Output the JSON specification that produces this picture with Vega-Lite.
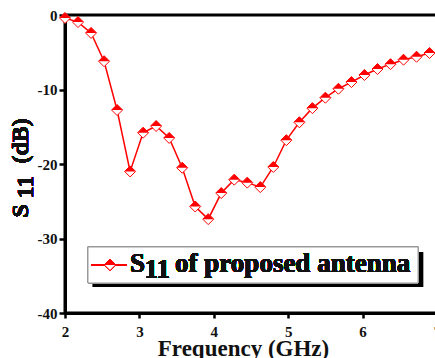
{
  "$schema": "https://vega.github.io/schema/vega-lite/v6.json",
  "width": 372,
  "height": 298,
  "autosize": {"type": "none"},
  "padding": {"left": 65, "top": 15, "right": 0, "bottom": 45},
  "background": "white",
  "config": {"view": {"stroke": "black", "strokeWidth": 3}, "font": "Liberation Serif"},
  "resolve": {"axis": {"x": "independent", "y": "independent"}},
  "data": {"values": [
    {"f": 2.0, "s11": -0.4}, {"f": 2.175, "s11": -0.95}, {"f": 2.35, "s11": -2.4}, {"f": 2.525, "s11": -6.2},
    {"f": 2.7, "s11": -12.75}, {"f": 2.875, "s11": -21.0}, {"f": 3.05, "s11": -15.8}, {"f": 3.225, "s11": -14.9},
    {"f": 3.4, "s11": -16.5}, {"f": 3.575, "s11": -20.5}, {"f": 3.75, "s11": -25.7}, {"f": 3.925, "s11": -27.4},
    {"f": 4.1, "s11": -23.9}, {"f": 4.275, "s11": -22.1}, {"f": 4.45, "s11": -22.5}, {"f": 4.625, "s11": -23.1},
    {"f": 4.8, "s11": -20.4}, {"f": 4.975, "s11": -16.8}, {"f": 5.15, "s11": -14.4}, {"f": 5.325, "s11": -12.5},
    {"f": 5.5, "s11": -11.1}, {"f": 5.675, "s11": -9.9}, {"f": 5.85, "s11": -9.0}, {"f": 6.025, "s11": -8.05},
    {"f": 6.2, "s11": -7.25}, {"f": 6.375, "s11": -6.6}, {"f": 6.55, "s11": -6.0}, {"f": 6.725, "s11": -5.6},
    {"f": 6.9, "s11": -5.1}
  ]},
  "layer": [
    {
      "mark": {"type": "line", "color": "#ff0000", "strokeWidth": 1.5},
      "encoding": {
        "x": {"field": "f", "type": "quantitative", "scale": {"domain": [2, 7], "nice": false, "zero": false},
          "axis": {"values": [2, 3, 4, 5, 6, 7], "labelExpr": "'' + datum.value", "title": "Frequency (GHz)", "grid": false, "domainColor": "black", "domainWidth": 3,
            "tickColor": "black", "tickWidth": 2.5, "tickSize": 5, "labelFont": "Liberation Serif", "labelFontWeight": "bold",
            "labelFontSize": 15, "labelColor": "#111", "labelPadding": 6, "labelFlush": false, "labelOverlap": false,
            "titleFont": "Liberation Serif", "titleFontSize": 23, "titleFontWeight": "bold", "titleColor": "#111",
            "titleX": 178, "titleY": 42, "titleBaseline": "alphabetic"}},
        "y": {"field": "s11", "type": "quantitative", "scale": {"domain": [-40, 0], "nice": false, "zero": false},
          "axis": {"values": [-40, -30, -20, -10, 0], "labelExpr": "'' + datum.value", "title": null, "grid": false, "domainColor": "black", "domainWidth": 3,
            "tickColor": "black", "tickWidth": 2.5, "tickSize": 6, "labelFont": "Liberation Serif", "labelFontWeight": "bold",
            "labelFontSize": 15, "labelColor": "#111", "labelPadding": 2, "labelOverlap": false}}
      }
    },
    {
      "mark": {"type": "point", "shape": "diamond", "filled": true, "fill": "white", "stroke": "#ff0000", "strokeWidth": 1, "size": 121, "opacity": 1},
      "encoding": {
        "x": {"field": "f", "type": "quantitative", "axis": null, "scale": {"domain": [2, 7], "nice": false, "zero": false}},
        "y": {"field": "s11", "type": "quantitative", "axis": null, "scale": {"domain": [-40, 0], "nice": false, "zero": false}}
      }
    },
    {
      "mark": {"type": "point", "shape": "M-1,0L0,-1L1,0Z", "filled": true, "color": "#ff0000", "size": 121, "opacity": 1},
      "encoding": {
        "x": {"field": "f", "type": "quantitative", "axis": null, "scale": {"domain": [2, 7], "nice": false, "zero": false}},
        "y": {"field": "s11", "type": "quantitative", "axis": null, "scale": {"domain": [-40, 0], "nice": false, "zero": false}}
      }
    },
    {
      "mark": {"type": "rect", "color": "black"},
      "encoding": {
        "x": {"datum": 2.376, "type": "quantitative", "axis": null, "scale": {"domain": [2, 7], "nice": false, "zero": false}},
        "x2": {"datum": 6.812},
        "y": {"datum": -31.81, "type": "quantitative", "axis": null, "scale": {"domain": [-40, 0], "nice": false, "zero": false}},
        "y2": {"datum": -36.51}
      }
    },
    {
      "mark": {"type": "rect", "fill": "white", "stroke": "#999999", "strokeWidth": 1},
      "encoding": {
        "x": {"datum": 2.309, "type": "quantitative", "axis": null, "scale": {"domain": [2, 7], "nice": false, "zero": false}},
        "x2": {"datum": 6.745},
        "y": {"datum": -31.14, "type": "quantitative", "axis": null, "scale": {"domain": [-40, 0], "nice": false, "zero": false}},
        "y2": {"datum": -35.97}
      }
    },
    {
      "mark": {"type": "rule", "color": "#ff0000", "strokeWidth": 1.5},
      "encoding": {
        "x": {"datum": 2.349, "type": "quantitative", "axis": null, "scale": {"domain": [2, 7], "nice": false, "zero": false}},
        "x2": {"datum": 2.833},
        "y": {"datum": -33.56, "type": "quantitative", "axis": null, "scale": {"domain": [-40, 0], "nice": false, "zero": false}}
      }
    },
    {
      "mark": {"type": "point", "shape": "diamond", "filled": true, "fill": "white", "stroke": "#ff0000", "strokeWidth": 1, "size": 121, "opacity": 1},
      "encoding": {
        "x": {"datum": 2.605, "type": "quantitative", "axis": null, "scale": {"domain": [2, 7], "nice": false, "zero": false}},
        "y": {"datum": -33.56, "type": "quantitative", "axis": null, "scale": {"domain": [-40, 0], "nice": false, "zero": false}}
      }
    },
    {
      "mark": {"type": "point", "shape": "M-1,0L0,-1L1,0Z", "filled": true, "color": "#ff0000", "size": 121, "opacity": 1},
      "encoding": {
        "x": {"datum": 2.605, "type": "quantitative", "axis": null, "scale": {"domain": [2, 7], "nice": false, "zero": false}},
        "y": {"datum": -33.56, "type": "quantitative", "axis": null, "scale": {"domain": [-40, 0], "nice": false, "zero": false}}
      }
    },
    {
      "mark": {"type": "text", "text": "S", "font": "Liberation Serif", "fontSize": 27, "fontWeight": "bold", "color": "#111", "align": "left", "baseline": "alphabetic"},
      "encoding": {
        "x": {"datum": 2.874, "type": "quantitative", "axis": null, "scale": {"domain": [2, 7], "nice": false, "zero": false}},
        "y": {"datum": -34.5, "type": "quantitative", "axis": null, "scale": {"domain": [-40, 0], "nice": false, "zero": false}}
      }
    },
    {
      "mark": {"type": "text", "text": "11", "font": "Liberation Serif", "fontSize": 27, "fontWeight": "bold", "color": "#111", "align": "left", "baseline": "alphabetic"},
      "encoding": {
        "x": {"datum": 3.07, "type": "quantitative", "axis": null, "scale": {"domain": [2, 7], "nice": false, "zero": false}},
        "y": {"datum": -35.3, "type": "quantitative", "axis": null, "scale": {"domain": [-40, 0], "nice": false, "zero": false}}
      }
    },
    {
      "mark": {"type": "text", "text": "of proposed antenna", "font": "Liberation Serif", "fontSize": 27, "fontWeight": "bold", "color": "#111", "align": "left", "baseline": "alphabetic"},
      "encoding": {
        "x": {"datum": 3.48, "type": "quantitative", "axis": null, "scale": {"domain": [2, 7], "nice": false, "zero": false}},
        "y": {"datum": -34.5, "type": "quantitative", "axis": null, "scale": {"domain": [-40, 0], "nice": false, "zero": false}}
      }
    },
    {
      "mark": {"type": "text", "text": "S", "font": "Liberation Serif", "fontSize": 24, "fontWeight": "bold", "color": "#111", "align": "center", "baseline": "alphabetic", "angle": 270},
      "encoding": {
        "x": {"datum": 1.503, "type": "quantitative", "axis": null, "scale": {"domain": [2, 7], "nice": false, "zero": false}},
        "y": {"datum": -26.3, "type": "quantitative", "axis": null, "scale": {"domain": [-40, 0], "nice": false, "zero": false}}
      }
    },
    {
      "mark": {"type": "text", "text": "11", "font": "Liberation Serif", "fontSize": 24, "fontWeight": "bold", "color": "#111", "align": "center", "baseline": "alphabetic", "angle": 270},
      "encoding": {
        "x": {"datum": 1.57, "type": "quantitative", "axis": null, "scale": {"domain": [2, 7], "nice": false, "zero": false}},
        "y": {"datum": -23.1, "type": "quantitative", "axis": null, "scale": {"domain": [-40, 0], "nice": false, "zero": false}}
      }
    },
    {
      "mark": {"type": "text", "text": "(dB)", "font": "Liberation Serif", "fontSize": 24, "fontWeight": "bold", "color": "#111", "align": "center", "baseline": "alphabetic", "angle": 270},
      "encoding": {
        "x": {"datum": 1.503, "type": "quantitative", "axis": null, "scale": {"domain": [2, 7], "nice": false, "zero": false}},
        "y": {"datum": -16.9, "type": "quantitative", "axis": null, "scale": {"domain": [-40, 0], "nice": false, "zero": false}}
      }
    }
  ]
}
